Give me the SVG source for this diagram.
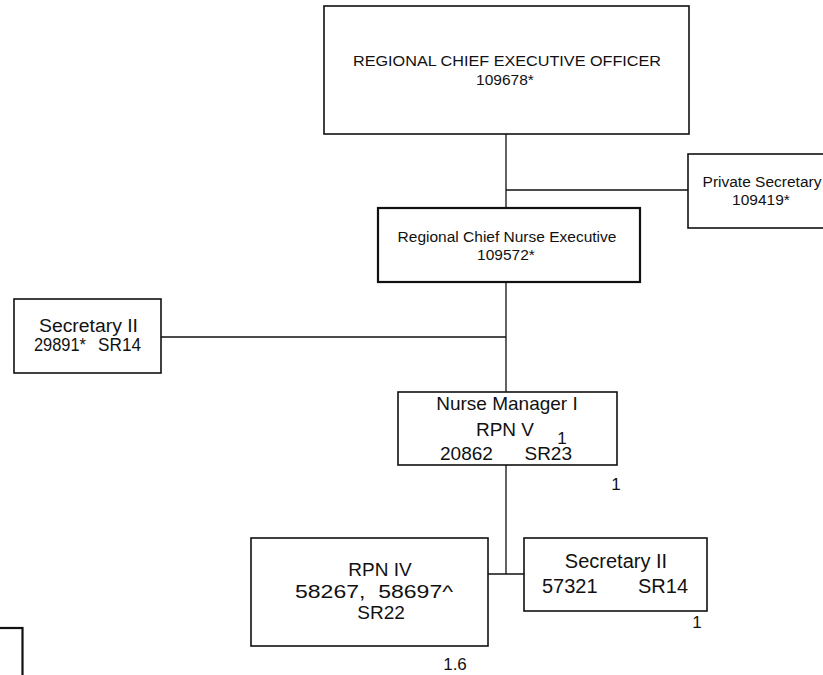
<svg xmlns="http://www.w3.org/2000/svg" width="823" height="675" viewBox="0 0 823 675">
<style>
.box{fill:#fff;stroke:#111;stroke-width:1.6}
.thick{stroke-width:2.2}
.ln{stroke:#111;stroke-width:1.3;fill:none}
text{font-family:"Liberation Sans",Arial,sans-serif;fill:#111}
.s16{font-size:15.5px}
.s17{font-size:17px}
.s18{font-size:18px}
.s19{font-size:19px}
.s20{font-size:20px}
.m{text-anchor:middle}
.e{text-anchor:end}
</style>
<rect width="823" height="675" fill="#fff"/>
<g id="connectors">
<path class="ln" d="M506,134 V208 M506,190 H688 M506,282 V392 M161,337 H506 M506,465 V574 M488,574 H524"/>
</g>
<g id="rceo">
<rect class="box" x="324" y="6" width="365" height="128"/>
<text class="s16 m" x="507" y="66" textLength="308" lengthAdjust="spacingAndGlyphs">REGIONAL CHIEF EXECUTIVE OFFICER</text>
<text class="s16 m" x="505" y="85">109678*</text>
</g>
<g id="private-secretary">
<rect class="box" x="688" y="154" width="150" height="74"/>
<text class="s16 m" x="762" y="187">Private Secretary</text>
<text class="s16 m" x="761" y="205">109419*</text>
</g>
<g id="rcne">
<rect class="box thick" x="378" y="208" width="262" height="74"/>
<text class="s16 m" x="507" y="242">Regional Chief Nurse Executive</text>
<text class="s16 m" x="506" y="260">109572*</text>
</g>
<g id="secretary-left">
<rect class="box" x="14" y="299" width="147" height="74"/>
<text class="s18 m" x="88.5" y="332" textLength="99" lengthAdjust="spacingAndGlyphs">Secretary II</text>
<text class="s18" x="34" y="351" textLength="52" lengthAdjust="spacingAndGlyphs">29891*</text>
<text class="s18 e" x="141" y="351" textLength="43" lengthAdjust="spacingAndGlyphs">SR14</text>
</g>
<g id="nurse-manager">
<rect class="box" x="398" y="392" width="219" height="73"/>
<text class="s19 m" x="507" y="410">Nurse Manager I</text>
<text class="s19 m" x="505" y="436">RPN V</text>
<text class="s19" x="440" y="460">20862</text>
<text class="s19 e" x="572" y="460">SR23</text>
<text class="s17 m" x="562" y="444">1</text>
<text class="s17 m" x="616" y="490">1</text>
</g>
<g id="rpn-iv">
<rect class="box" x="251" y="538" width="237" height="108"/>
<text class="s19 m" x="380" y="576">RPN IV</text>
<text class="s19 m" x="374" y="598" xml:space="preserve" textLength="158" lengthAdjust="spacingAndGlyphs">58267,  58697^</text>
<text class="s19 m" x="381" y="619">SR22</text>
<text class="s17 m" x="455" y="670">1.6</text>
</g>
<g id="secretary-right">
<rect class="box" x="524" y="538" width="183" height="73"/>
<text class="s20 m" x="616" y="568">Secretary II</text>
<text class="s20" x="542" y="593">57321</text>
<text class="s20 e" x="688" y="593">SR14</text>
<text class="s17 m" x="697" y="628">1</text>
</g>
<g id="partial-box">
<rect class="box thick" x="-10" y="628" width="32.5" height="60"/>
</g>
</svg>
